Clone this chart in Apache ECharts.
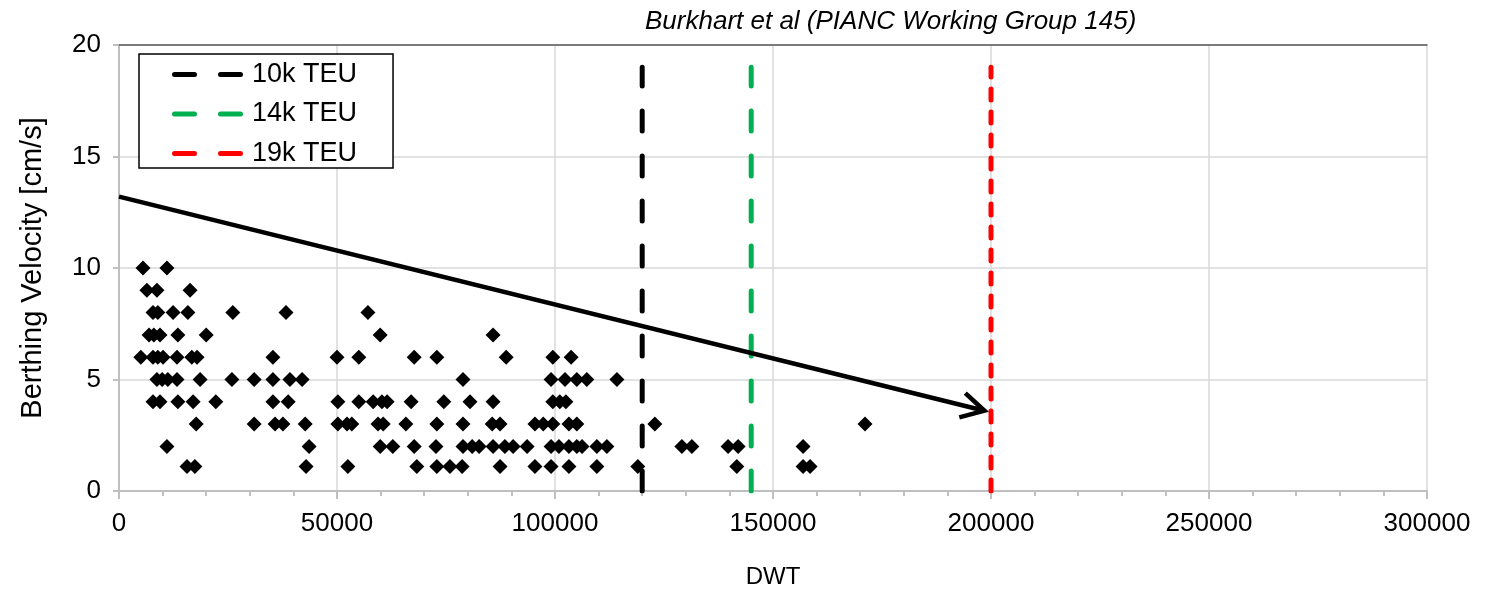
<!DOCTYPE html>
<html>
<head>
<meta charset="utf-8">
<title>Berthing Velocity vs DWT</title>
<script src="https://cdn.jsdelivr.net/npm/echarts@6/dist/echarts.min.js"></script>
<style>
  html, body { margin: 0; padding: 0; background: #fff; }
  #chart { width: 1485px; height: 591px; }
</style>
</head>
<body>
<div id="chart"></div>
<script>
// Measured berthing velocities (cm/s), grouped by velocity level; each array lists ship DWT
const dwtAt10 = [5500, 11000];
const dwtAt9 = [6400, 8700, 16300];
const dwtAt8 = [7800, 8900, 12400, 15800, 26100, 38300, 57100];
const dwtAt7 = [6900, 8000, 9400, 13500, 20000, 59900, 85800];
const dwtAt6 = [5000, 7800, 8900, 10100, 13300, 16700, 17900, 35300, 50000, 55000, 67700, 72900, 88800, 99500, 103700];
const dwtAt5 = [8700, 9900, 11200, 13300, 18600, 25900, 31000, 35300, 39200, 42000, 78900, 99100, 102300, 105000, 107300, 114200];
const dwtAt4 = [7800, 9400, 13500, 17000, 22200, 35300, 38800, 50200, 55000, 58300, 60300, 61500, 67000, 74500, 80500, 85800, 99500, 101100, 102500];
const dwtAt3 = [17700, 31000, 35800, 37600, 42700, 50200, 52300, 53400, 59400, 60600, 65800, 72900, 78900, 85600, 87400, 95400, 97300, 99500, 103200, 105000, 122900, 171100];
const dwtAt2 = [11000, 43600, 59900, 62800, 67700, 72700, 78900, 81000, 82600, 85800, 88500, 90400, 93600, 99100, 100900, 103200, 105000, 106200, 109600, 111900, 129100, 131400, 139700, 142000, 156900];
const dwtAt1 = [15600, 17400, 42900, 52500, 68300, 72900, 75900, 78700, 87400, 95400, 99100, 103200, 109600, 119000, 141700, 156900, 158500];

const velocityLevels = [10, 9, 8, 7, 6, 5, 4, 3, 2, 1.1];
const dwtGroups = [dwtAt10, dwtAt9, dwtAt8, dwtAt7, dwtAt6, dwtAt5, dwtAt4, dwtAt3, dwtAt2, dwtAt1];

// Container ship size markers (DWT) and the height of the marker lines
const fleetNames = ['10k TEU', '14k TEU', '19k TEU'];
const fleetDwt = [120000, 145000, 200000];
const fleetColors = ['#000000', '#00b050', '#ff0000'];
const markerTop = 19;

// Trend arrow: start and end (DWT, velocity)
const trendStart = [0, 13.2];
const trendEnd = [198500, 3.6];

// Axis ranges: min, max, interval
const xTicks = [0, 300000, 50000];
const yTicks = [0, 20, 5];

const scatterData = [];
dwtGroups.forEach(function (group, i) {
  group.forEach(function (d) { scatterData.push([d, velocityLevels[i]]); });
});

const font = 'Liberation Sans, Arial, sans-serif';
const dashPatterns = [[20, 25], [20, 25], [11, 12]];
// Legend key: two rounded dashes
const dashedKey = 'path://M2.5,0H22.5A2.5,2.5 0 0 1 22.5,5H2.5A2.5,2.5 0 0 1 2.5,0Z' +
  'M48.5,0H68.5A2.5,2.5 0 0 1 68.5,5H48.5A2.5,2.5 0 0 1 48.5,0Z';

const fleetSeries = fleetNames.map(function (name, i) {
  return {
    name: name,
    type: 'line',
    data: [[fleetDwt[i], 0], [fleetDwt[i], markerTop]],
    symbol: 'none',
    z: 3,
    lineStyle: { color: fleetColors[i], width: 5, type: dashPatterns[i], cap: 'round' },
    itemStyle: { color: fleetColors[i] }
  };
});

const chart = echarts.init(document.getElementById('chart'), null, { renderer: 'canvas' });
chart.setOption({
  animation: false,
  backgroundColor: '#ffffff',
  title: {
    text: 'Burkhart et al (PIANC Working Group 145)',
    left: 640,
    top: 4,
    textStyle: { fontFamily: font, fontSize: 26, fontStyle: 'italic', fontWeight: 'normal', color: '#000' }
  },
  grid: { left: 119, right: 58, top: 45, bottom: 100, containLabel: false, outerBoundsMode: 'none' },
  legend: {
    left: 139,
    top: 54,
    orient: 'vertical',
    backgroundColor: '#ffffff',
    borderColor: '#000000',
    borderWidth: 1.5,
    borderRadius: 0,
    padding: [7, 36, 1, 33],
    itemWidth: 71,
    itemHeight: 5,
    itemGap: 12.5,
    textStyle: { fontFamily: font, fontSize: 27, color: '#000', lineHeight: 24, padding: [0, 0, 0, 4] },
    data: fleetNames.map(function (name, i) {
      return { name: name, icon: dashedKey, itemStyle: { color: fleetColors[i] } };
    })
  },
  xAxis: [{
    type: 'value',
    min: xTicks[0],
    max: xTicks[1],
    interval: xTicks[2],
    name: 'DWT',
    nameLocation: 'middle',
    nameGap: 74,
    nameTextStyle: { fontFamily: font, fontSize: 24, color: '#000' },
    axisLine: { show: true, onZero: false, lineStyle: { color: '#bfbfbf', width: 2 } },
    axisTick: { show: true, length: 8, lineStyle: { color: '#bfbfbf', width: 2 } },
    minorTick: { show: true, splitNumber: 5, length: 5, lineStyle: { color: '#bfbfbf', width: 2 } },
    axisLabel: { fontFamily: font, fontSize: 26, color: '#000', margin: 20, formatter: function (v) { return String(v); } },
    splitLine: { show: true, lineStyle: { color: '#d9d9d9', width: 1.5 } }
  }, {
    type: 'value',
    position: 'top',
    min: xTicks[0],
    max: xTicks[1],
    axisLine: { show: true, onZero: false, lineStyle: { color: '#595959', width: 1.5 } },
    axisTick: { show: false },
    axisLabel: { show: false },
    splitLine: { show: false }
  }],
  yAxis: {
    type: 'value',
    min: yTicks[0],
    max: yTicks[1],
    interval: yTicks[2],
    name: 'Berthing Velocity [cm/s]',
    nameLocation: 'middle',
    nameGap: 72,
    nameTextStyle: { fontFamily: font, fontSize: 29, color: '#000' },
    axisLine: { show: true, onZero: false, lineStyle: { color: '#bfbfbf', width: 2 } },
    axisTick: { show: true, length: 6, lineStyle: { color: '#bfbfbf', width: 2 } },
    axisLabel: { fontFamily: font, fontSize: 26, color: '#000', margin: 18 },
    splitLine: { show: true, lineStyle: { color: '#d9d9d9', width: 1.5 } }
  },
  series: [
    {
      name: 'Measured',
      type: 'scatter',
      data: scatterData,
      symbol: 'diamond',
      symbolSize: 15,
      z: 4,
      itemStyle: { color: '#000000', opacity: 1 }
    }
  ].concat(fleetSeries).concat([
    {
      name: 'Trend',
      type: 'line',
      data: [trendStart, trendEnd],
      symbol: 'none',
      z: 5,
      lineStyle: { color: '#000000', width: 4.5, cap: 'butt' }
    },
    {
      name: 'Trend head',
      type: 'custom',
      z: 5,
      data: [[trendStart[0], trendStart[1], trendEnd[0], trendEnd[1]]],
      renderItem: function (params, api) {
        const tail = api.coord([api.value(0), api.value(1)]);
        const tip = api.coord([api.value(2), api.value(3)]);
        const ang = Math.atan2(tip[1] - tail[1], tip[0] - tail[0]);
        const len = 26, spread = 0.5;
        const a = [tip[0] - len * Math.cos(ang - spread), tip[1] - len * Math.sin(ang - spread)];
        const b = [tip[0] - len * Math.cos(ang + spread), tip[1] - len * Math.sin(ang + spread)];
        return {
          type: 'polyline',
          shape: { points: [a, tip, b] },
          style: { stroke: '#000000', lineWidth: 4.5, fill: null, lineJoin: 'miter' }
        };
      }
    }
  ])
});
</script>
</body>
</html>
